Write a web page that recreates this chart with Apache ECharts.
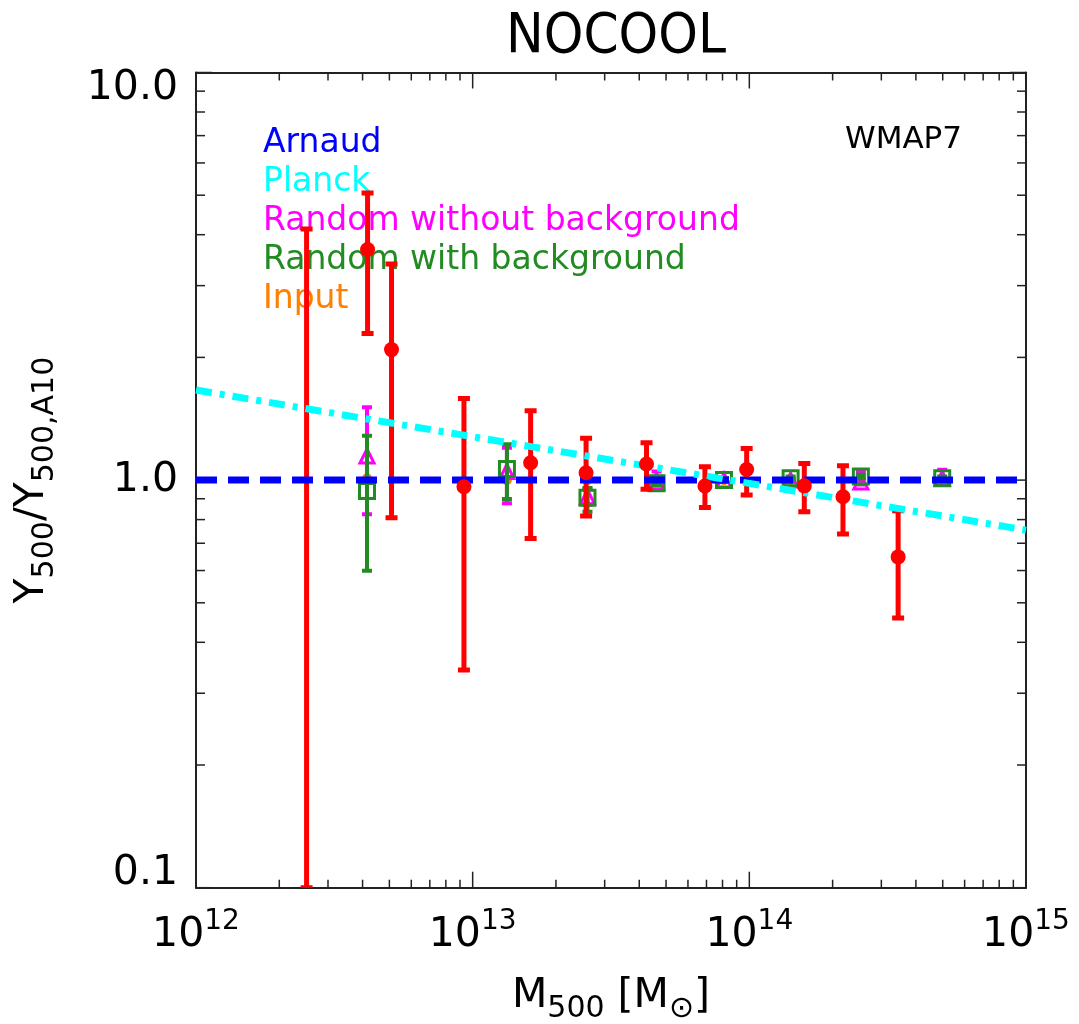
<!DOCTYPE html>
<html>
<head>
<meta charset="utf-8">
<script src="https://cdn.jsdelivr.net/npm/echarts@6/dist/echarts.min.js"></script>
<style>
  html, body { margin: 0; padding: 0; background: #ffffff; }
  #chart { width: 1079px; height: 1024px; }
</style>
</head>
<body>
<div id="chart"></div>
<script>
// Stacked measurement from the simulation (red, with 1-sigma bars)
const redMass  = [2.51e12, 4.17e12, 5.09e12, 9.30e12, 1.62e13, 2.57e13, 4.25e13, 6.91e13, 9.78e13, 1.58e14, 2.18e14, 3.45e14];
const redRatio = ['-',     3.68,    2.09,    0.963,   1.103,   1.042,   1.095,   0.967,   1.062,   0.968,   0.910,   0.648];
const redLow   = [0.10,    2.29,    0.808,   0.342,   0.719,   0.817,   0.949,   0.857,   0.919,   0.836,   0.737,   0.459];
const redHigh  = [4.13,    5.06,    3.39,    1.586,   1.479,   1.266,   1.235,   1.078,   1.196,   1.099,   1.084,   0.841];

// Random-position tests and input values
const randMass   = [4.15e12, 1.33e13, 2.60e13, 4.62e13, 8.10e13, 1.41e14, 2.53e14, 4.98e14];
const noBgRatio  = [1.146,   1.05,    0.91,    0.99,    1.00,    1.00,    0.99,    1.01];
const noBgLow    = [0.824,   0.877,   0.87,    0.975,   0.99,    0.99,    0.975,   1.00];
const noBgHigh   = [1.509,   1.201,   0.95,    1.05,    1.01,    1.01,    1.05,    1.06];
const bgRatio    = [0.940,   1.065,   0.905,   0.982,   1.00,    1.01,    1.02,    1.01];
const bgLow      = [0.599,   0.899,   0.836,   0.970,   0.99,    1.00,    1.01,    1.00];
const bgHigh     = [1.285,   1.224,   0.956,   0.995,   1.01,    1.02,    1.03,    1.02];
const inputRatio = [1.01,    1.00,    1.00,    1.00,    1.00,    1.00,    1.00,    1.00];

// Reference scaling relations
const arnaudMass  = [1e12, 1e15];
const arnaudRatio = [1.0, 1.0];
const planckMass  = [1e12, 1e15];
const planckRatio = [1.663, 0.754];

// Axis ticks
const xTickExponents = [12, 13, 14, 15];
const yTickValues = [0.1, 1, 10];
const yTickText   = ['0.1', '1.0', '10.0'];

const legendNames  = ['Arnaud', 'Planck', 'Random without background', 'Random with background', 'Input'];
const legendColors = ['#0000ff', '#00ffff', '#ff00ff', '#228b22', '#ff7f00'];

const FONT = 'DejaVu Sans';
const FRAME = '#222222';

// tick marks along the frame: long ones at each decade, short ones at 2..9
const xTickMarks = [];
for (let e = 12; e <= 15; e++) {
  xTickMarks.push([Math.pow(10, e), 16]);
  if (e < 15) for (let m = 2; m < 10; m++) xTickMarks.push([m * Math.pow(10, e), 8]);
}
const yTickMarks = [];
for (let e = -1; e <= 1; e++) {
  yTickMarks.push([Math.pow(10, e), 16]);
  if (e < 1) for (let m = 2; m < 10; m++) yTickMarks.push([m * Math.pow(10, e), 9]);
}

function zip3(a, b, c) { return a.map((v, i) => [v, b[i], c[i]]); }
function zip2(a, b) { return a.map((v, i) => [v, b[i]]); }

function errorBars(color, lineW, capHalf, capW) {
  return function (params, api) {
    const x = api.value(0);
    const pLo = api.coord([x, api.value(1)]);
    const pHi = api.coord([x, api.value(2)]);
    const bar = { stroke: color, lineWidth: lineW };
    const cap = { stroke: color, lineWidth: capW };
    return {
      type: 'group',
      children: [
        { type: 'line', shape: { x1: pLo[0], y1: pLo[1], x2: pHi[0], y2: pHi[1] }, style: bar },
        { type: 'line', shape: { x1: pLo[0] - capHalf, y1: pLo[1], x2: pLo[0] + capHalf, y2: pLo[1] }, style: cap },
        { type: 'line', shape: { x1: pHi[0] - capHalf, y1: pHi[1], x2: pHi[0] + capHalf, y2: pHi[1] }, style: cap }
      ]
    };
  };
}

function ticksX(params, api) {
  const cs = params.coordSys;
  const x = api.coord([api.value(0), 1])[0];
  const len = api.value(1);
  const st = { stroke: FRAME, lineWidth: 1.5 };
  return {
    type: 'group',
    children: [
      { type: 'line', shape: { x1: x, y1: cs.y + cs.height, x2: x, y2: cs.y + cs.height - len }, style: st },
      { type: 'line', shape: { x1: x, y1: cs.y, x2: x, y2: cs.y + len }, style: st }
    ]
  };
}
function ticksY(params, api) {
  const cs = params.coordSys;
  const y = api.coord([1e13, api.value(0)])[1];
  const len = api.value(1);
  const st = { stroke: FRAME, lineWidth: 1.5 };
  return {
    type: 'group',
    children: [
      { type: 'line', shape: { x1: cs.x, y1: y, x2: cs.x + len, y2: y }, style: st },
      { type: 'line', shape: { x1: cs.x + cs.width, y1: y, x2: cs.x + cs.width - len, y2: y }, style: st }
    ]
  };
}

const axisCommonX = {
  type: 'log', logBase: 10, min: 1e12, max: 1e15,
  axisLine: { show: true, lineStyle: { color: FRAME, width: 2 } },
  axisTick: { show: false },
  splitLine: { show: false }
};
const axisCommonY = {
  type: 'log', logBase: 10, min: 0.1, max: 10,
  axisLine: { show: true, lineStyle: { color: FRAME, width: 2 } },
  axisTick: { show: false },
  splitLine: { show: false }
};

const chart = echarts.init(document.getElementById('chart'), null, { renderer: 'canvas' });

chart.setOption({
  backgroundColor: '#ffffff',
  animation: false,
  title: {
    text: 'NOCOOL',
    left: 611, top: 4, textAlign: 'center',
    textStyle: { fontFamily: 'Liberation Sans Narrow, DejaVu Sans Condensed, sans-serif', fontSize: 56, fontWeight: 'normal', color: '#000' }
  },
  legend: {
    orient: 'vertical', left: 253, top: 122, itemGap: 6,
    itemWidth: 0, itemHeight: 0, selectedMode: false,
    data: legendNames.map((n, i) => ({ name: n, icon: 'rect', textStyle: { color: legendColors[i] } })),
    textStyle: { fontFamily: FONT, fontSize: 33 }
  },
  graphic: [{
    type: 'text', left: 845, top: 124,
    style: { text: 'WMAP7', fontFamily: FONT, fontSize: 31, fill: '#000' }
  }],
  grid: { left: 196, right: 53, top: 72.5, bottom: 136.3, containLabel: false, outerBoundsMode: 'none' },
  xAxis: [
    Object.assign({}, axisCommonX, {
      position: 'bottom',
      name: 'M{sub|500} [M{sub|\u2299}]',
      nameLocation: 'middle', nameGap: 76,
      nameTextStyle: {
        fontFamily: FONT, fontSize: 41, color: '#000', lineHeight: 56,
        rich: { sub: { fontFamily: FONT, fontSize: 30, color: '#000', verticalAlign: 'bottom', lineHeight: 30 } }
      },
      axisLabel: {
        show: true, margin: 20, color: '#000', fontFamily: FONT, fontSize: 41, lineHeight: 56,
        formatter: function (v) {
          const e = Math.round(Math.log10(v));
          return xTickExponents.indexOf(e) >= 0 ? '10{sup|' + e + '}' : '';
        },
        rich: { sup: { fontFamily: FONT, fontSize: 28, color: '#000', verticalAlign: 'top', lineHeight: 28 } }
      }
    }),
    Object.assign({}, axisCommonX, { position: 'top', axisLabel: { show: false } })
  ],
  yAxis: [
    Object.assign({}, axisCommonY, {
      position: 'left',
      name: 'Y{sub|500}/Y{sub|500,A10}',
      nameLocation: 'middle', nameGap: 136, nameRotate: 90, nameMoveOverlap: false,
      nameTextStyle: {
        fontFamily: FONT, fontSize: 41, color: '#000', lineHeight: 56,
        rich: { sub: { fontFamily: FONT, fontSize: 30, color: '#000', verticalAlign: 'bottom', lineHeight: 30 } }
      },
      axisLabel: {
        show: true, margin: 18, color: '#000', fontFamily: FONT, fontSize: 41,
        formatter: function (v) {
          const i = yTickValues.findIndex(t => Math.abs(Math.log10(t) - Math.log10(v)) < 1e-6);
          if (i < 0) return '';
          if (i === yTickValues.length - 1) return '{top|' + yTickText[i] + '}';
          if (i === 0) return '{bot|' + yTickText[i] + '}';
          return yTickText[i];
        },
        rich: {
          top: { fontFamily: FONT, fontSize: 41, color: '#000', padding: [31, 0, 0, 0] },
          bot: { fontFamily: FONT, fontSize: 41, color: '#000', padding: [0, 0, 29, 0] }
        }
      }
    }),
    Object.assign({}, axisCommonY, { position: 'right', axisLabel: { show: false } })
  ],
  series: [
    { type: 'custom', renderItem: ticksX, data: xTickMarks, silent: true, z: 1, encode: { x: 0 } },
    { type: 'custom', renderItem: ticksY, data: yTickMarks, silent: true, z: 1, encode: { y: 0 } },

    { name: 'Input', type: 'scatter', data: zip2(randMass, inputRatio),
      symbol: 'circle', symbolSize: 10, itemStyle: { color: '#ff7f00', opacity: 1 }, z: 2 },

    { name: 'Random without background', type: 'custom', clip: true, z: 3,
      renderItem: errorBars('#ff00ff', 4, 5, 4), data: zip3(randMass, noBgLow, noBgHigh),
      encode: { x: 0, y: [1, 2] } },
    { name: 'Random without background', type: 'scatter', data: zip2(randMass, noBgRatio), z: 3,
      symbol: 'triangle', symbolSize: 14,
      itemStyle: { color: 'rgba(0,0,0,0)', borderColor: '#ff00ff', borderWidth: 3, opacity: 1 } },

    { name: 'Random with background', type: 'custom', clip: true, z: 4,
      renderItem: errorBars('#228b22', 4, 5, 4), data: zip3(randMass, bgLow, bgHigh),
      encode: { x: 0, y: [1, 2] } },
    { name: 'Random with background', type: 'scatter', data: zip2(randMass, bgRatio), z: 4,
      symbol: 'rect', symbolSize: 15,
      itemStyle: { color: 'rgba(0,0,0,0)', borderColor: '#228b22', borderWidth: 3, opacity: 1 } },

    { type: 'custom', clip: true, z: 5,
      renderItem: errorBars('#ff0000', 5, 6, 5), data: zip3(redMass, redLow, redHigh),
      encode: { x: 0, y: [1, 2] } },

    { name: 'Arnaud', type: 'line', data: zip2(arnaudMass, arnaudRatio), z: 6,
      showSymbol: false, symbol: 'none',
      lineStyle: { color: '#0000ff', width: 7, type: [21, 11] }, itemStyle: { color: '#0000ff' } },
    { name: 'Planck', type: 'line', data: zip2(planckMass, planckRatio), z: 6,
      showSymbol: false, symbol: 'none',
      lineStyle: { color: '#00ffff', width: 7, type: [16, 8, 5, 8] }, itemStyle: { color: '#00ffff' } },

    { type: 'scatter', data: zip2(redMass, redRatio), z: 7, clip: true,
      symbol: 'circle', symbolSize: 15, itemStyle: { color: '#ff0000', opacity: 1 } }
  ]
});
</script>
</body>
</html>
